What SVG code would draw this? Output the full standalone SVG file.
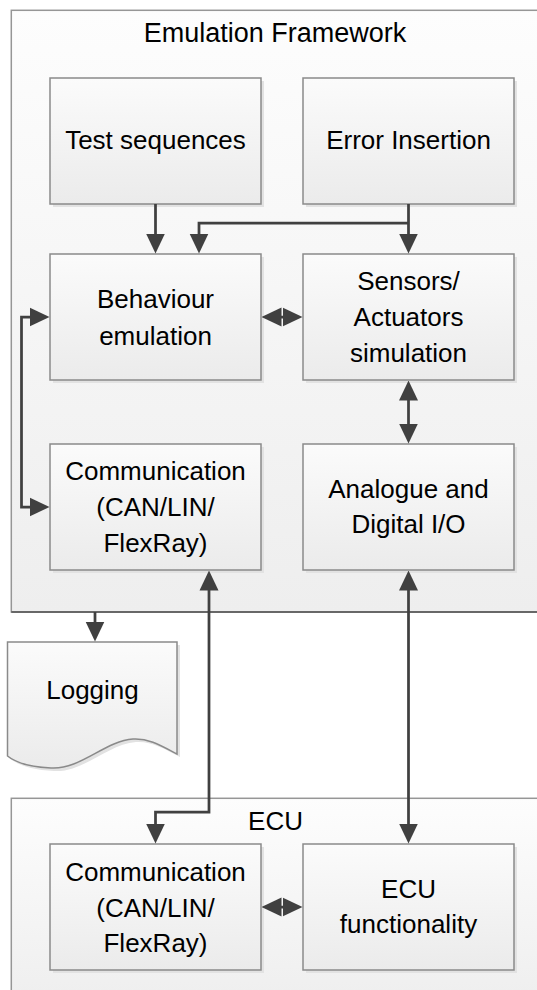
<svg xmlns="http://www.w3.org/2000/svg" width="537" height="990" viewBox="0 0 537 990">
  <defs>
    <linearGradient id="frameFill" x1="0" y1="0" x2="0" y2="1">
      <stop offset="0" stop-color="#fdfdfd"/>
      <stop offset="1" stop-color="#eeeeee"/>
    </linearGradient>
    <linearGradient id="boxFill" x1="0" y1="0" x2="0" y2="1">
      <stop offset="0" stop-color="#fbfbfb"/>
      <stop offset="1" stop-color="#ebebeb"/>
    </linearGradient>
    <marker id="arrow" viewBox="0 0 20 20" markerWidth="20" markerHeight="20" refX="0.5" refY="10" markerUnits="userSpaceOnUse" orient="auto-start-reverse">
      <path d="M0,0.5 L20,10 L0,19.5 Z" fill="#404040"/>
    </marker>
  </defs>
  <style>
    .frame { fill: url(#frameFill); stroke: #969696; stroke-width: 1.5; }
    .box { fill: url(#boxFill); stroke: #8a8a8a; stroke-width: 1.5; }
    .shadow { fill: #e2e2e2; stroke: none; }
    .label { font-family: "Liberation Sans", Arial, sans-serif; font-size: 26px; fill: #000; text-anchor: middle; }
    .title { font-size: 27px; }
    .conn { fill: none; stroke: #404040; stroke-width: 2.75; stroke-linejoin: miter; }
    .arr { marker-end: url(#arrow); }
    .arr2 { marker-start: url(#arrow); marker-end: url(#arrow); }
  </style>

  <!-- container frames -->
  <g id="emulation-framework">
    <rect class="frame" x="11.3" y="10.3" width="540" height="601.7"/>
    <line x1="11.3" y1="612" x2="540" y2="612" stroke="#505050" stroke-width="1.5"/>
    <text class="label title" x="275" y="42">Emulation Framework</text>
  </g>
  <g id="ecu">
    <rect class="frame" x="11.3" y="798.3" width="540" height="210"/>
    <text class="label" x="275.5" y="830">ECU</text>
  </g>

  <!-- framework blocks -->
  <g id="test-sequences">
    <rect class="shadow" x="53" y="81" width="211" height="126"/>
    <rect class="box" x="50" y="78" width="211" height="126"/>
    <text class="label" x="155.5" y="149">Test sequences</text>
  </g>
  <g id="error-insertion">
    <rect class="shadow" x="306" y="81" width="211" height="126"/>
    <rect class="box" x="303" y="78" width="211" height="126"/>
    <text class="label" x="408.5" y="149">Error Insertion</text>
  </g>
  <g id="behaviour-emulation">
    <rect class="shadow" x="53" y="257" width="211" height="126"/>
    <rect class="box" x="50" y="254" width="211" height="126"/>
    <text class="label" x="155.5" y="308">Behaviour</text>
    <text class="label" x="155.5" y="344.5">emulation</text>
  </g>
  <g id="sensors-actuators">
    <rect class="shadow" x="306" y="257" width="211" height="126"/>
    <rect class="box" x="303" y="254" width="211" height="126"/>
    <text class="label" x="408.5" y="290">Sensors/</text>
    <text class="label" x="408.5" y="326">Actuators</text>
    <text class="label" x="408.5" y="362">simulation</text>
  </g>
  <g id="communication">
    <rect class="shadow" x="53" y="447" width="211" height="126"/>
    <rect class="box" x="50" y="444" width="211" height="126"/>
    <text class="label" x="155.5" y="480">Communication</text>
    <text class="label" x="155.5" y="516">(CAN/LIN/</text>
    <text class="label" x="155.5" y="551.5">FlexRay)</text>
  </g>
  <g id="analogue-digital-io">
    <rect class="shadow" x="306" y="447" width="211" height="126"/>
    <rect class="box" x="303" y="444" width="211" height="126"/>
    <text class="label" x="408.5" y="498">Analogue and</text>
    <text class="label" x="408.5" y="533">Digital I/O</text>
  </g>

  <!-- logging document -->
  <g id="logging">
    <path class="shadow" d="M10.5,645 H180 V757 C163,748 151,741 136,742 C108,744 83,773 54,771 C33,770 18,765 10.5,759 Z"/>
    <path class="box" d="M7.5,642 H177 V754 C160,745 148,738 133,739 C105,741 80,770 51,768 C30,767 15,762 7.5,756 Z"/>
    <text class="label" x="92.5" y="699">Logging</text>
  </g>

  <!-- ECU blocks -->
  <g id="ecu-communication">
    <rect class="shadow" x="53" y="847" width="211" height="126"/>
    <rect class="box" x="50" y="844" width="211" height="126"/>
    <text class="label" x="155.5" y="881">Communication</text>
    <text class="label" x="155.5" y="916.5">(CAN/LIN/</text>
    <text class="label" x="155.5" y="951.5">FlexRay)</text>
  </g>
  <g id="ecu-functionality">
    <rect class="shadow" x="306" y="847" width="211" height="126"/>
    <rect class="box" x="303" y="844" width="211" height="126"/>
    <text class="label" x="408.5" y="898">ECU</text>
    <text class="label" x="408.5" y="933">functionality</text>
  </g>

  <!-- connectors -->
  <g id="connectors">
    <path class="conn arr" d="M155.5,204 V234"/>
    <path class="conn arr" d="M408.5,204 V234"/>
    <path class="conn arr" d="M408.5,223 H199 V234"/>
    <path class="conn arr2" d="M281,317 H283"/>
    <path class="conn arr2" d="M408.5,400 V424"/>
    <path class="conn arr2" d="M30,317 H21.5 V507 H30"/>
    <path class="conn arr2" d="M209,590 V812 H155.5 V824"/>
    <path class="conn arr2" d="M408.5,590 V824"/>
    <path class="conn arr2" d="M281,907 H283"/>
    <path class="conn arr" d="M95,612 V622"/>
  </g>
</svg>
